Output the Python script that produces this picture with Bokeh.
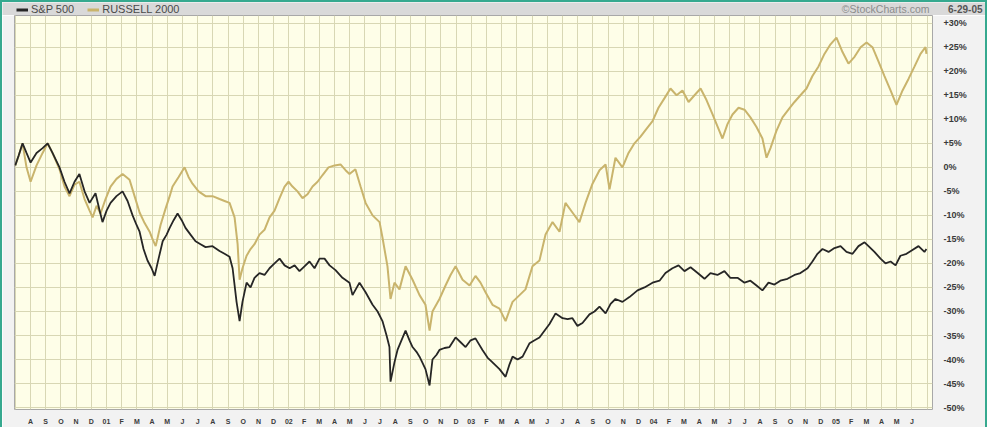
from bokeh.plotting import figure
from bokeh.models import Range1d, FixedTicker, Label, Legend, LegendItem
from bokeh.layouts import column
from bokeh.embed import file_html
from bokeh.resources import INLINE

# ---- data: months since 1 Jul 2000, percent change ----
sp_month = [0.00, 0.22, 0.48, 0.74, 1.01, 1.40, 1.80, 2.13, 2.45, 2.91, 3.24, 3.57, 3.90, 4.22, 4.56, 4.89,
            5.28, 5.55, 5.74, 6.01, 6.27, 6.66, 7.06, 7.39, 7.72, 7.98, 8.18, 8.44, 8.70, 8.97, 9.17, 9.43,
            9.70, 9.96, 10.16, 10.42, 10.68, 10.95, 11.20, 11.53, 11.86, 12.19, 12.52, 12.98, 13.44, 13.77,
            14.10, 14.30, 14.56, 14.76, 14.95, 15.22, 15.48, 15.74, 16.07, 16.40, 16.73, 17.06, 17.39, 17.72,
            18.05, 18.38, 18.70, 19.03, 19.36, 19.69, 20.02, 20.35, 20.68, 21.07, 21.53, 21.99, 22.19, 22.65,
            23.05, 23.51, 23.84, 24.16, 24.43, 24.62, 24.69, 24.95, 25.15, 25.41, 25.68, 25.94, 26.14, 26.40,
            26.60, 26.99, 27.26, 27.45, 27.72, 27.91, 28.24, 28.57, 28.97, 29.30, 29.63, 29.96, 30.28, 30.74,
            31.07, 31.40, 31.86, 32.26, 32.52, 32.72, 33.05, 33.38, 33.84, 34.17, 34.49, 34.82, 35.15, 35.55,
            36.01, 36.34, 36.66, 36.99, 37.32, 37.78, 38.11, 38.44, 38.84, 39.17, 39.49, 39.95, 40.41, 40.94,
            41.40, 41.93, 42.39, 42.78, 43.24, 43.64, 44.03, 44.43, 44.90, 45.35, 45.74, 46.20, 46.66, 47.05,
            47.52, 47.98, 48.37, 48.77, 49.16, 49.56, 49.95, 50.34, 50.81, 51.27, 51.66, 52.13, 52.45, 52.78,
            53.11, 53.51, 53.90, 54.30, 54.69, 55.09, 55.48, 55.88, 56.14, 56.53, 56.93, 57.26, 57.59, 57.92,
            58.24, 58.64, 59.03, 59.43, 59.82, 59.95]
sp_pct = [0.4, 2.4, 5.0, 3.0, 1.0, 3.0, 4.0, 5.0, 3.0, 0.0, -3.0, -5.4, -3.0, -1.4, -5.0, -7.4,
          -5.4, -9.0, -11.4, -9.0, -7.4, -6.0, -5.0, -7.0, -10.0, -12.0, -13.4, -17.0, -19.4, -21.0, -22.6, -19.0,
          -15.4, -14.0, -12.6, -11.0, -9.6, -11.0, -12.6, -14.0, -15.4, -16.0, -16.6, -16.4, -17.4, -18.0,
          -18.6, -21.0, -28.0, -32.0, -28.0, -24.0, -25.0, -23.0, -22.0, -22.4, -21.0, -20.0, -19.0, -20.4,
          -21.0, -20.4, -21.6, -20.6, -19.6, -21.0, -19.0, -19.0, -20.4, -21.4, -23.0, -24.0, -26.6, -24.0,
          -26.0, -28.6, -30.0, -32.0, -35.0, -37.4, -44.6, -40.6, -38.0, -36.0, -34.0, -36.0, -37.4, -38.4,
          -39.4, -42.0, -45.4, -40.0, -39.0, -38.0, -37.6, -37.4, -35.4, -36.4, -37.4, -36.0, -35.6, -38.0,
          -39.6, -40.6, -42.0, -43.6, -41.0, -39.4, -40.0, -39.4, -36.6, -36.0, -35.4, -34.0, -32.6, -30.4,
          -31.4, -31.6, -31.4, -33.0, -32.4, -30.6, -30.0, -29.0, -30.4, -28.4, -27.4, -28.0, -27.0, -25.6,
          -25.0, -24.0, -23.6, -22.0, -21.0, -20.4, -21.6, -20.8, -22.0, -23.2, -22.0, -22.4, -21.6, -23.0,
          -23.0, -24.0, -23.6, -24.6, -25.6, -24.0, -24.4, -23.6, -23.2, -22.4, -22.0, -21.0, -19.6, -18.0,
          -17.0, -17.6, -16.8, -16.4, -17.6, -18.0, -16.4, -15.6, -16.4, -17.6, -19.0, -20.0, -19.6, -20.4,
          -18.4, -18.0, -17.2, -16.4, -17.6, -17.0]

rut_month = [0.00, 0.22, 0.48, 0.74, 1.01, 1.40, 1.80, 2.13, 2.45, 2.91, 3.24, 3.57, 3.90, 4.22, 4.56, 4.89,
             5.09, 5.35, 5.61, 5.94, 6.27, 6.66, 7.06, 7.52, 7.85, 8.18, 8.51, 8.84, 9.04, 9.24, 9.56, 9.89,
             10.16, 10.35, 10.75, 11.14, 11.40, 11.66, 12.06, 12.52, 12.98, 13.44, 13.77, 14.10, 14.43, 14.63,
             14.76, 14.95, 15.22, 15.48, 15.74, 16.07, 16.40, 16.73, 17.06, 17.39, 17.72, 17.98, 18.24, 18.57,
             18.90, 19.23, 19.56, 19.89, 20.22, 20.61, 21.01, 21.40, 21.73, 21.99, 22.38, 22.72, 23.05, 23.51,
             23.97, 24.16, 24.49, 24.69, 24.95, 25.28, 25.68, 26.14, 26.60, 26.99, 27.26, 27.45, 27.91, 28.31,
             28.64, 28.97, 29.43, 29.89, 30.28, 30.61, 30.94, 31.40, 31.86, 32.26, 32.72, 33.18, 33.57, 34.03,
             34.49, 34.89, 35.35, 35.81, 36.20, 36.66, 37.12, 37.52, 37.98, 38.44, 38.84, 39.10, 39.49, 39.95,
             40.35, 40.74, 41.14, 41.53, 41.93, 42.32, 42.72, 43.11, 43.51, 43.90, 44.30, 44.69, 45.09, 45.48,
             45.88, 46.27, 46.53, 46.86, 47.19, 47.59, 47.98, 48.37, 48.77, 49.16, 49.43, 49.69, 50.08, 50.48,
             50.87, 51.27, 51.66, 52.06, 52.45, 52.85, 53.24, 53.64, 54.03, 54.43, 54.82, 55.22, 55.62, 56.01,
             56.40, 56.80, 57.19, 57.59, 57.98, 58.38, 58.77, 59.17, 59.56, 59.89, 59.95]
rut_pct = [0.4, 2.4, 5.0, 0.0, -3.0, 0.4, 3.0, 5.0, 3.0, -0.4, -4.0, -6.0, -3.6, -3.0, -6.6, -9.0,
           -10.4, -8.0, -9.6, -6.6, -4.0, -2.4, -1.4, -2.6, -6.0, -9.4, -11.6, -13.4, -15.0, -16.4, -12.0, -8.6,
           -6.0, -4.0, -2.0, 0.0, -2.0, -3.4, -5.0, -6.0, -6.0, -6.6, -7.0, -7.4, -10.4, -16.0,
           -23.4, -21.0, -18.4, -17.0, -16.0, -14.0, -13.0, -10.4, -9.0, -6.4, -4.0, -3.0, -4.0, -5.0,
           -6.4, -5.6, -4.0, -3.0, -1.6, 0.0, 0.4, 0.6, -0.6, -1.4, -0.4, -4.0, -7.4, -10.0,
           -11.4, -14.6, -20.6, -27.4, -24.0, -25.4, -20.6, -23.4, -26.6, -28.6, -34.0, -30.0, -27.4, -24.6,
           -22.4, -20.6, -23.4, -24.6, -22.6, -24.0, -26.0, -28.6, -29.4, -32.0, -28.0, -26.6, -25.4, -20.6,
           -19.4, -14.0, -11.4, -13.4, -7.4, -9.4, -11.4, -7.4, -3.4, -0.6, 0.6, -4.6, 2.0, 0.0,
           3.0, 5.0, 6.4, 8.0, 9.6, 12.4, 14.4, 16.4, 15.0, 16.0, 13.6, 15.0, 16.4, 14.0,
           11.0, 8.0, 6.0, 9.0, 11.0, 12.4, 12.0, 10.4, 8.4, 6.0, 2.0, 4.0, 7.6, 10.4,
           12.0, 13.6, 15.0, 16.4, 19.0, 21.0, 23.6, 25.6, 27.0, 24.0, 21.6, 23.0, 25.0, 26.0,
           25.0, 22.0, 19.0, 16.0, 13.0, 16.0, 18.4, 21.0, 23.6, 25.0, 23.6]

series_names = ["S&P 500", "RUSSELL 2000"]
series_colors = ["#262626", "#c9b46c"]

month_ticks = list(range(1, 60))
month_labels = ["A", "S", "O", "N", "D",
                "01", "F", "M", "A", "M", "J", "J", "A", "S", "O", "N", "D",
                "02", "F", "M", "A", "M", "J", "J", "A", "S", "O", "N", "D",
                "03", "F", "M", "A", "M", "J", "J", "A", "S", "O", "N", "D",
                "04", "F", "M", "A", "M", "J", "J", "A", "S", "O", "N", "D",
                "05", "F", "M", "A", "M", "J"]
pct_ticks = [30, 25, 20, 15, 10, 5, 0, -5, -10, -15, -20, -25, -30, -35, -40, -45, -50]
pct_labels = ["+30%", "+25%", "+20%", "+15%", "+10%", "+5%", "0%", "-5%", "-10%", "-15%",
              "-20%", "-25%", "-30%", "-35%", "-40%", "-45%", "-50%"]
source_text = "©StockCharts.com"
date_text = "6-29-05"

W = 983
HDR_H = 13
MAIN_H = 412
LEFT = 12
RIGHT = 53

# ---- header band with legend (own full-width frame) ----
hdr = figure(width=W, height=HDR_H, x_range=Range1d(0, W), y_range=Range1d(0, HDR_H),
             x_axis_type=None, y_axis_type=None,
             toolbar_location=None, output_backend="svg", min_border=0)
hdr.frame_align = False
hdr.grid.visible = False
hdr.outline_line_color = None
hdr.background_fill_color = "#d9d9d9"
hdr.border_fill_color = "#d9d9d9"
nan = float("nan")
r_sp = hdr.line(x=[nan], y=[nan], line_color=series_colors[0], line_width=3)
r_rut = hdr.line(x=[nan], y=[nan], line_color=series_colors[1], line_width=3)
leg = Legend(items=[LegendItem(label=series_names[0], renderers=[r_sp]),
                    LegendItem(label=series_names[1], renderers=[r_rut])],
             orientation="horizontal", location=(14, 0), padding=1, margin=0, spacing=13,
             glyph_width=12, glyph_height=11, label_height=11, label_standoff=3,
             label_text_font_size="11px", label_text_color="#4a4a4a",
             label_text_font="Liberation Sans", label_text_baseline="middle",
             background_fill_alpha=0, border_line_color=None)
hdr.add_layout(leg)
hdr.add_layout(Label(x=927, y=6.5, text=source_text, text_align="right", text_baseline="middle",
                     text_font_size="10.5px", text_color="#8c8c8c", text_font="Liberation Sans"))
hdr.add_layout(Label(x=980, y=6.5, text=date_text, text_align="right", text_baseline="middle",
                     text_font_size="10px", text_color="#555555", text_font="Liberation Sans",
                     text_font_style="bold"))

# ---- main chart ----
p = figure(width=W, height=MAIN_H, x_range=Range1d(-0.05, 60.35), y_range=Range1d(-50.4, 31.6),
           y_axis_location="right", toolbar_location=None, output_backend="svg",
           min_border_left=LEFT, min_border_right=RIGHT, min_border_top=0, min_border_bottom=12)
p.frame_align = False
p.background_fill_color = "#fefee8"
p.border_fill_color = "#f2f2f2"
p.outline_line_color = "#a8a8a8"

p.xgrid.ticker = FixedTicker(ticks=list(range(0, 61)))
p.ygrid.ticker = FixedTicker(ticks=pct_ticks)
p.grid.grid_line_color = "#d8d7b4"
p.grid.grid_line_width = 1

p.xaxis.ticker = FixedTicker(ticks=month_ticks)
p.xaxis.major_label_overrides = dict(zip(month_ticks, month_labels))
p.yaxis.ticker = FixedTicker(ticks=pct_ticks)
p.yaxis.major_label_overrides = dict(zip(pct_ticks, pct_labels))
for ax in (p.xaxis[0], p.yaxis[0]):
    ax.axis_line_color = None
    ax.major_tick_line_color = None
    ax.minor_tick_line_color = None
    ax.major_label_text_font = "Liberation Sans"
    ax.major_label_text_font_style = "bold"
    ax.major_label_text_color = "#3a3a3a"
p.xaxis.major_label_text_font_size = "7px"
p.xaxis.major_label_standoff = 2
p.yaxis.major_label_text_font_size = "9px"
p.yaxis.major_label_standoff = 5

p.line(rut_month, rut_pct, line_color=series_colors[1], line_width=2.0)
p.line(sp_month, sp_pct, line_color=series_colors[0], line_width=1.8)

layout = column(hdr, p, spacing=0,
                styles={"border-top": "2px solid #36a98f", "border-left": "2px solid #36a98f",
                        "border-right": "2px solid #36a98f"})

open("out.html", "w").write(file_html(layout, INLINE))
